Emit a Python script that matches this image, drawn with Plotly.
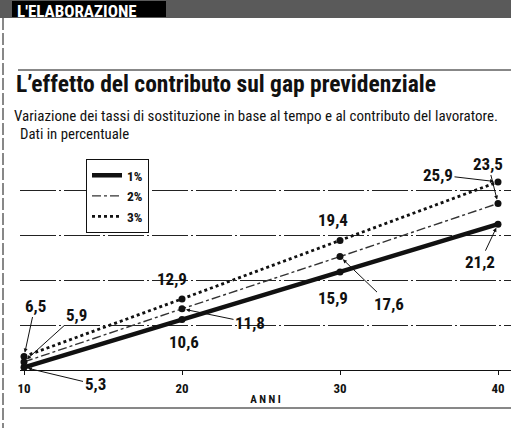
import plotly.graph_objects as go

# ---------------- data ----------------
years = [10, 20, 30, 40]
series_names = ["1%", "2%", "3%"]
val_1pct = [5.3, 10.6, 15.9, 21.2]
val_2pct = [5.9, 11.8, 17.6, 23.5]
val_3pct = [6.5, 12.9, 19.4, 25.9]
x_tick_values = [10, 20, 30, 40]
x_tick_labels = ["10", "20", "30", "40"]
y_grid_values = [5, 10, 15, 20, 25, 30]

series_values = [val_1pct, val_2pct, val_3pct]

# ---------------- layout helpers ----------------
W, H = 511, 428
ML, MR, MT, MB = 20, 0, 145, 58
PW, PH = W - ML - MR, H - MT - MB


def pxx(p):  # pixel x -> paper x
    return (p - ML) / PW


def pxy(p):  # pixel y -> paper y
    return (H - MB - p) / PH


NARROW = "Roboto Condensed, Liberation Sans Narrow, Roboto, sans-serif"
INK = "#111111"

line_styles = [
    dict(color=INK, width=4.5, dash="solid"),
    dict(color="#333333", width=1.4, dash="dashdot"),
    dict(color=INK, width=2.8, dash="dot"),
]

fig = go.Figure()
for name, vals, ls in zip(series_names, series_values, line_styles):
    fig.add_trace(go.Scatter(x=years, y=vals, mode="lines", name=name,
                             line=ls, cliponaxis=False))
for name, vals in zip(series_names, series_values):
    fig.add_trace(go.Scatter(x=years, y=vals, mode="markers", name=name,
                             showlegend=False, cliponaxis=False,
                             marker=dict(color=INK, size=7)))

# value labels: (series index, point index, ax, ay, arrow)
label_specs = [
    (2, 0, 11, -51, True), (1, 0, 52, -47, True), (0, 0, 71, 17, True),
    (2, 1, -10, 20, False), (1, 1, 68, 14, True), (0, 1, 2, -22, False),
    (2, 2, -7, 20, False), (0, 2, -7, -26, False), (1, 2, 49, 47, True),
    (2, 3, -60, -7, True), (1, 3, -10, -40, True), (0, 3, -18, 38, True),
]
annotations = []
for si, pi, dx, dy, arrow in label_specs:
    v = series_values[si][pi]
    txt = f"{v:.1f}".replace(".", ",")
    a = dict(x=years[pi], y=v, xref="x", yref="y", text=txt,
             font=dict(family=NARROW, size=17, color=INK, weight="bold"))
    if arrow:
        a.update(showarrow=True, ax=dx, ay=dy, arrowhead=2, arrowsize=0.8,
                 arrowwidth=1, arrowcolor=INK, standoff=4)
    else:
        a.update(showarrow=False, xshift=dx, yshift=dy)
    annotations.append(a)

# header + titles
annotations.append(dict(x=pxx(16), y=pxy(10.5), xref="paper", yref="paper",
                        xanchor="left", yanchor="middle", showarrow=False,
                        text="L'ELABORAZIONE", borderpad=0,
                        font=dict(family=NARROW, size=17, color="white", weight="bold")))
annotations.append(dict(x=pxx(14), y=pxy(84), xref="paper", yref="paper",
                        xanchor="left", yanchor="middle", showarrow=False,
                        text="L’effetto del contributo sul gap previdenziale",
                        font=dict(family=NARROW, size=23.5, color=INK, weight="bold")))
annotations.append(dict(x=pxx(12), y=pxy(116), xref="paper", yref="paper",
                        xanchor="left", yanchor="middle", showarrow=False,
                        text="Variazione dei tassi di sostituzione in base al tempo e al contributo del lavoratore.",
                        font=dict(family=NARROW, size=15, color=INK)))
annotations.append(dict(x=pxx(18), y=pxy(134), xref="paper", yref="paper",
                        xanchor="left", yanchor="middle", showarrow=False,
                        text="Dati in percentuale",
                        font=dict(family=NARROW, size=14.8, color=INK)))

shapes = [
    # header band
    dict(type="rect", xref="paper", yref="paper", x0=pxx(0), x1=pxx(W),
         y0=pxy(18), y1=pxy(0), fillcolor="#5a5a5a", line=dict(width=0), layer="below"),
    dict(type="rect", xref="paper", yref="paper", x0=pxx(12), x1=pxx(166),
         y0=pxy(17), y1=pxy(1), fillcolor="#000000", line=dict(width=0), layer="below"),
    # left vertical rule
    dict(type="line", xref="paper", yref="paper", x0=pxx(3), x1=pxx(3),
         y0=pxy(18), y1=pxy(H), line=dict(color=INK, width=1, dash="12px,3px")),
    # rule above title
    dict(type="line", xref="paper", yref="paper", x0=pxx(18), x1=pxx(W),
         y0=pxy(70), y1=pxy(70), line=dict(color=INK, width=1)),
    # bottom rule
    dict(type="line", xref="paper", yref="paper", x0=pxx(20), x1=pxx(W),
         y0=pxy(408), y1=pxy(408), line=dict(color=INK, width=1)),
]

fig.update_layout(
    width=W, height=H,
    margin=dict(l=ML, r=MR, t=MT, b=MB, pad=0, autoexpand=False),
    paper_bgcolor="white", plot_bgcolor="white",
    showlegend=True,
    legend=dict(xref="container", yref="container", x=86 / W, y=1 - 159 / H,
                xanchor="left", yanchor="top", bgcolor="white",
                bordercolor=INK, borderwidth=1, itemwidth=30,
                font=dict(family=NARROW, size=13.5, color=INK, weight="bold"),
                tracegroupgap=0),
    annotations=annotations,
    shapes=shapes,
    xaxis=dict(range=[10 - 4 / 15.8, 10 - 4 / 15.8 + PW / 15.8],
               tickvals=x_tick_values, ticktext=x_tick_labels,
               showgrid=False, zeroline=False, showline=True,
               linecolor=INK, linewidth=1, ticks="outside", ticklen=4,
               tickcolor=INK, ticklabelstandoff=2,
               tickfont=dict(family=NARROW, size=13, color=INK, weight="bold"),
               title=dict(text="A N N I", standoff=0,
                          font=dict(family=NARROW, size=11, color=INK, weight="bold"))),
    yaxis=dict(range=[5, 30], tickvals=y_grid_values, showticklabels=False,
               showgrid=True, gridcolor="#222222", gridwidth=1,
               griddash="36px,3px,2px,3px", zeroline=False, showline=False,
               ticks=""),
)

fig.write_html("out.html", post_script="document.body.style.margin='0';",
               config={"displayModeBar": False})
